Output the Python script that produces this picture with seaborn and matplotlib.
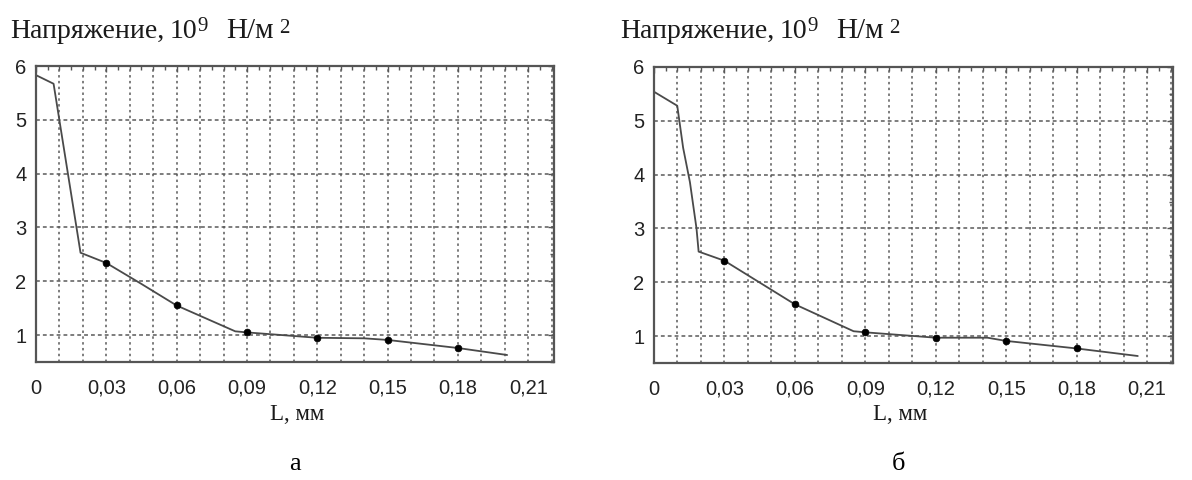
import numpy as np
import pandas as pd
import matplotlib
matplotlib.use("Agg")
import matplotlib.pyplot as plt
from matplotlib.ticker import MultipleLocator, FixedLocator
import seaborn as sns

sns.set_style("white")
plt.rcParams["font.family"] = ["Liberation Serif", "DejaVu Serif"]

# Stress profile along L, panel "а"
L_a = [0.0, 0.0075, 0.019, 0.03, 0.045, 0.06, 0.085, 0.09, 0.12, 0.14, 0.15, 0.18, 0.201]
S_a = [5.83, 5.67, 2.53, 2.34, 1.95, 1.55, 1.07, 1.05, 0.95, 0.94, 0.91, 0.76, 0.63]

# Stress profile along L, panel "б"
L_b = [0.0, 0.0099, 0.0124, 0.0153, 0.0181, 0.019, 0.03, 0.06, 0.085, 0.09, 0.12, 0.142, 0.15, 0.18, 0.206]
S_b = [5.54, 5.28, 4.50, 3.86, 3.00, 2.57, 2.40, 1.59, 1.09, 1.07, 0.97, 0.97, 0.91, 0.77, 0.63]

# Measured points shown as dots
dots_L = [0.03, 0.06, 0.09, 0.12, 0.15, 0.18]
dots_a = [2.34, 1.55, 1.05, 0.95, 0.91, 0.76]
dots_b = [2.40, 1.59, 1.07, 0.97, 0.91, 0.77]

x_ticks = [0.0, 0.03, 0.06, 0.09, 0.12, 0.15, 0.18, 0.21]
x_ticklabels = ["0", "0,03", "0,06", "0,09", "0,12", "0,15", "0,18", "0,21"]
y_ticks = [1, 2, 3, 4, 5, 6]

x_title = "L, мм"
panel_labels = ["а", "б"]

W, H = 1192, 480
fig = plt.figure(figsize=(W / 100, H / 100), dpi=100)
fig.patch.set_facecolor("white")
renderer = fig.canvas.get_renderer()

boxes = [(36, 66, 554, 362), (654, 67, 1173, 363)]
title_x = [10, 620]
label_cx = [297, 900]
curves = [(L_a, S_a, dots_a), (L_b, S_b, dots_b)]

grid_c = "#5a5a5a"
tick_font = dict(family=["Liberation Sans", "DejaVu Sans"], size=14.5)
txt_c = "#1a1a1a"


def px(x, y):
    return x / W, 1 - y / H


# caption pieces: (text, dx from caption start, baseline y, font size)
caption_parts = [
    ("Напряжение,", 0, 38, 20),
    ("10", 160, 38, 20),
    ("9", 187, 31, 15),
    ("Н/м", 216, 38, 21),
]

for (x0, y0, x1, y1), (Lx, Sy, dy), plab, tx, cx in zip(
        boxes, curves, panel_labels, title_x, label_cx):
    ax = fig.add_axes([x0 / W, 1 - y1 / H, (x1 - x0) / W, (y1 - y0) / H])
    ax.set_xlim(0, 0.221)
    ax.set_ylim(0.5, 6)

    # dotted grid: every 0.01 along L, every unit of stress
    ax.vlines(np.arange(0.01, 0.2205, 0.01), 0.5, 6, colors=grid_c,
              linestyles=(0, (1.6, 2.2)), linewidth=1.1, zorder=1)
    ax.hlines(np.arange(1, 6), 0, 0.221, colors=grid_c,
              linestyles=(0, (2.5, 2.0)), linewidth=1.1, zorder=1)

    df = pd.DataFrame({"L": Lx, "S": Sy})
    sns.lineplot(data=df, x="L", y="S", ax=ax, color="#4a4a4a", linewidth=1.3,
                 sort=False, estimator=None, zorder=2)
    dd = pd.DataFrame({"L": dots_L, "S": dy})
    sns.scatterplot(data=dd, x="L", y="S", ax=ax, color="black", s=24,
                    edgecolor="black", linewidth=0.5, zorder=3)

    ax.xaxis.set_major_locator(FixedLocator(x_ticks))
    ax.set_xticklabels(x_ticklabels, **tick_font)
    ax.xaxis.set_minor_locator(MultipleLocator(0.005))
    ax.yaxis.set_major_locator(FixedLocator(y_ticks))
    ax.set_yticklabels([str(v) for v in y_ticks], **tick_font)
    ax.yaxis.set_minor_locator(MultipleLocator(0.5))
    ax.tick_params(which="both", direction="in", top=True, right=True,
                   color="#555555", width=1.0, labelcolor="#222222")
    ax.tick_params(which="major", length=4)
    ax.tick_params(which="minor", length=3)
    ax.tick_params(axis="x", which="major", pad=12)
    ax.tick_params(axis="y", which="major", pad=7)
    ax.set_xlabel("")
    ax.set_ylabel("")
    for sp in ax.spines.values():
        sp.set_color("#555555")
        sp.set_linewidth(1.6)

    # axis caption "Напряжение, 10^9 Н/м^2"
    last = None
    for s, dx, by, fs in caption_parts:
        last = fig.text(*px(tx + dx, by), s, fontsize=fs, ha="left",
                        va="baseline", color=txt_c)
    right_edge = last.get_window_extent(renderer).x1
    fig.text((right_edge + 6) / W, 1 - 33 / H, "2", fontsize=15, ha="left",
             va="baseline", color=txt_c)

    fig.text(*px(cx, 420), x_title, fontsize=16.5, ha="center",
             va="baseline", color=txt_c)
    fig.text(*px(cx - 2, 470), plab, fontsize=19, ha="center",
             va="baseline", color="black")

fig.savefig("out.png", dpi=100, facecolor="white")
